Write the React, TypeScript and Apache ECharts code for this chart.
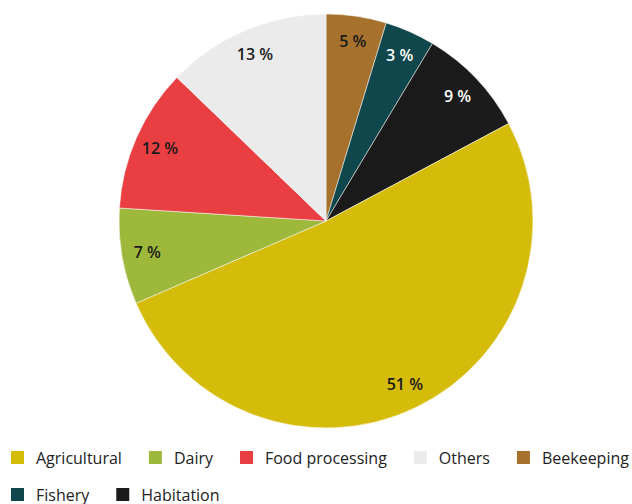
import React, { useEffect, useRef } from "react";
import * as echarts from "echarts";

// slice order, clockwise from 12 o'clock
const categories = ["Beekeeping", "Fishery", "Habitation", "Agricultural", "Dairy", "Food processing", "Others"];
// slice shares (%)
const shares = [4.7, 3.9, 8.6, 51.3, 7.5, 11.2, 12.8];
// percentages printed on the slices
const percentLabels = [5, 3, 9, 51, 7, 12, 13];
const colors = ["#a5712c", "#10474c", "#1b1b1b", "#d6bc0a", "#9db83b", "#e93f42", "#ebebeb"];
const labelColors = ["#1a1a1a", "#ffffff", "#ffffff", "#1a1a1a", "#1a1a1a", "#1a1a1a", "#1a1a1a"];
// legend order, by row
const legendRow1 = ["Agricultural", "Dairy", "Food processing", "Others", "Beekeeping"];
const legendRow2 = ["Fishery", "Habitation"];

export default function App() {
  const ref = useRef<HTMLDivElement>(null);
  useEffect(() => {
    if (!ref.current) return;
    const chart = echarts.init(ref.current, null, { renderer: "svg" });
    const font = "'Open Sans', 'Noto Sans', sans-serif";
    const pieData = categories.map((name, i) => ({
      name,
      value: shares[i],
      itemStyle: { color: colors[i] },
    }));
    const labelData = categories.map((name, i) => ({
      name,
      value: shares[i],
      itemStyle: { color: "rgba(0,0,0,0)" },
      label: { color: labelColors[i], formatter: percentLabels[i] + " %" },
    }));
    const legendBase = {
      left: 9,
      width: 640,
      padding: 0,
      itemWidth: 15,
      itemHeight: 15,
      itemGap: 25,
      icon: "rect",
      selectedMode: false,
      textStyle: {
        fontFamily: font,
        fontSize: 16,
        color: "#222222",
        padding: [0, 0, 0, 6],
      },
    };
    const toLegendData = (names: string[]) =>
      names.map((n) => ({ name: n, itemStyle: { color: colors[categories.indexOf(n)] } }));
    chart.setOption({
      animation: false,
      backgroundColor: "#ffffff",
      legend: [
        { ...legendBase, top: 449, data: toLegendData(legendRow1) },
        { ...legendBase, top: 486, data: toLegendData(legendRow2) },
      ],
      series: [
        {
          type: "pie",
          center: [326, 221],
          radius: [0, 207],
          startAngle: 90,
          clockwise: true,
          label: { show: false },
          labelLine: { show: false },
          itemStyle: { borderColor: "#ffffff", borderWidth: 0.5 },
          emphasis: { disabled: true },
          data: pieData,
        },
        {
          type: "pie",
          center: [326, 221],
          radius: [150, 207],
          startAngle: 90,
          clockwise: true,
          silent: true,
          legendHoverLink: false,
          label: {
            show: true,
            position: "inside",
            fontFamily: font,
            fontSize: 16,
            fontWeight: 600,
          },
          labelLine: { show: false },
          emphasis: { disabled: true },
          data: labelData,
        },
      ],
    });
    return () => chart.dispose();
  }, []);
  return (
    <div
      ref={ref}
      style={{ position: "fixed", left: 0, top: 0, width: 632, height: 504 }}
    />
  );
}
